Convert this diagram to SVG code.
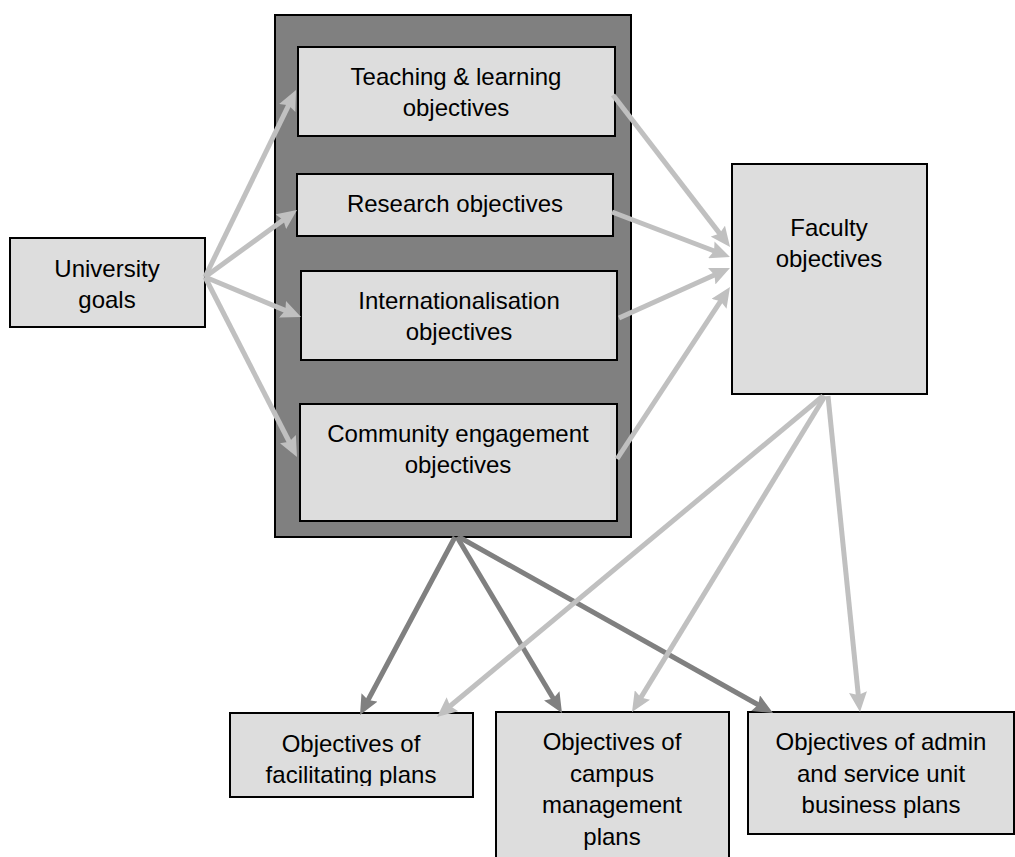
<svg xmlns="http://www.w3.org/2000/svg" width="1015" height="857" viewBox="0 0 1015 857">
<style>
  .box{fill:#dddddd;stroke:#000;stroke-width:2}
  .outer{fill:#808080;stroke:#000;stroke-width:2}
  text{font-family:"Liberation Sans",Arial,sans-serif;font-size:24px;fill:#000;text-anchor:middle}
  .lt{stroke:#c0c0c0;stroke-width:5;fill:none}
  .dk{stroke:#808080;stroke-width:5;fill:none}
</style>
<defs>
  <marker id="ahL" markerUnits="userSpaceOnUse" markerWidth="20" markerHeight="18" viewBox="0 0 20 18" refX="6" refY="9" orient="auto">
    <path d="M0,0 L20,9 L0,18 L3,9 z" fill="#c0c0c0"/>
  </marker>
  <marker id="ahD" markerUnits="userSpaceOnUse" markerWidth="20" markerHeight="18" viewBox="0 0 20 18" refX="6" refY="9" orient="auto">
    <path d="M0,0 L20,9 L0,18 L3,9 z" fill="#808080"/>
  </marker>
  <clipPath id="clipFacil"><rect x="230" y="713" width="243" height="73"/></clipPath>
</defs>

<g id="university">
  <rect class="box" x="10" y="238" width="195" height="89"/>
  <text x="107" y="277">University</text>
  <text x="107" y="308">goals</text>
</g>

<g id="objectives-group">
  <rect class="outer" x="275" y="15" width="356" height="522"/>
</g>

<g id="teaching">
  <rect class="box" x="298" y="47" width="317" height="89"/>
  <text x="456" y="85">Teaching &amp; learning</text>
  <text x="456" y="116">objectives</text>
</g>

<g id="research">
  <rect class="box" x="297" y="174" width="316" height="62"/>
  <text x="455" y="212">Research objectives</text>
</g>

<g id="internationalisation">
  <rect class="box" x="301" y="271" width="316" height="89"/>
  <text x="459" y="309">Internationalisation</text>
  <text x="459" y="340">objectives</text>
</g>

<g id="community">
  <rect class="box" x="300" y="404" width="317" height="117"/>
  <text x="458" y="442">Community engagement</text>
  <text x="458" y="473">objectives</text>
</g>

<g id="faculty">
  <rect class="box" x="732" y="164" width="195" height="230"/>
  <text x="829" y="236">Faculty</text>
  <text x="829" y="267">objectives</text>
</g>

<g id="facilitating">
  <rect class="box" x="230" y="713" width="243" height="84"/>
  <g clip-path="url(#clipFacil)">
    <text x="351" y="752">Objectives of</text>
    <text x="351" y="783">facilitating plans</text>
  </g>
</g>

<g id="campus">
  <rect class="box" x="496" y="712" width="233" height="160"/>
  <text x="612" y="750">Objectives of</text>
  <text x="612" y="782">campus</text>
  <text x="612" y="813">management</text>
  <text x="612" y="845">plans</text>
</g>

<g id="admin">
  <rect class="box" x="748" y="712" width="266" height="122"/>
  <text x="881" y="750">Objectives of admin</text>
  <text x="881" y="782">and service unit</text>
  <text x="881" y="813">business plans</text>
</g>

<g id="connectors">
  <line class="lt" x1="205" y1="277" x2="289.9" y2="102.6" marker-end="url(#ahL)"/>
  <line class="lt" x1="205" y1="277" x2="285.7" y2="218.2" marker-end="url(#ahL)"/>
  <line class="lt" x1="205" y1="277" x2="288.1" y2="311.6" marker-end="url(#ahL)"/>
  <line class="lt" x1="205" y1="277" x2="290.6" y2="444.5" marker-end="url(#ahL)"/>

  <line class="lt" x1="613" y1="95" x2="721.5" y2="235.9" marker-end="url(#ahL)"/>
  <line class="lt" x1="612" y1="212" x2="716.9" y2="252" marker-end="url(#ahL)"/>
  <line class="lt" x1="619" y1="318" x2="717.2" y2="273.8" marker-end="url(#ahL)"/>
  <line class="lt" x1="617" y1="459" x2="722.3" y2="298.7" marker-end="url(#ahL)"/>

  <line class="dk" x1="455" y1="537" x2="366.6" y2="702.7" marker-end="url(#ahD)"/>
  <line class="dk" x1="457" y1="537" x2="554.8" y2="701" marker-end="url(#ahD)"/>
  <line class="dk" x1="459" y1="537" x2="760.8" y2="706.2" marker-end="url(#ahD)"/>

  <line class="lt" x1="823" y1="396" x2="447.8" y2="708" marker-end="url(#ahL)"/>
  <line class="lt" x1="825" y1="396" x2="639.3" y2="700.1" marker-end="url(#ahL)"/>
  <line class="lt" x1="828" y1="396" x2="858.6" y2="698.1" marker-end="url(#ahL)"/>
</g>
</svg>
